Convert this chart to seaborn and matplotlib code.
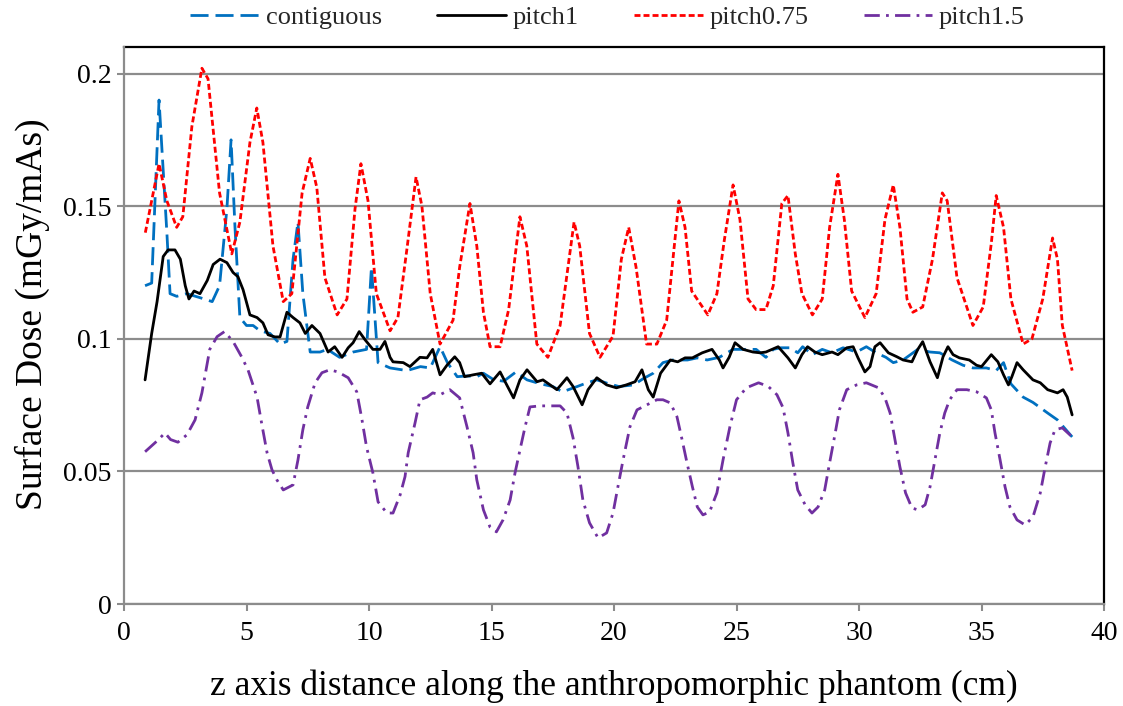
import numpy as np
import pandas as pd
import seaborn as sns
import matplotlib
matplotlib.use("Agg")
import matplotlib.pyplot as plt

# ---------------- data ----------------
contig_x = [0.86, 1.13, 1.43, 1.75, 1.88, 2.15, 2.56, 3.1, 3.6, 3.9,
            4.2, 4.37, 4.53, 4.73, 5.0, 5.27, 5.55, 5.96, 6.37, 6.65,
            6.9, 7.1, 7.3, 7.6, 8.0, 8.3, 8.8, 9.35, 9.9, 10.1,
            10.37, 10.86, 11.55, 12.1, 12.5, 12.9, 13.2, 13.6, 14.0, 14.4,
            14.67, 15.1, 15.5, 16.0, 16.45, 17.0, 17.5, 17.9, 18.5, 18.9,
            19.3, 19.8, 20.2, 20.8, 21.2, 21.6, 22.0, 22.4, 23.0, 23.4,
            23.8, 24.3, 24.86, 25.3, 25.8, 26.2, 26.5, 26.8, 27.2, 27.5,
            27.7, 28.1, 28.5, 28.9, 29.35, 29.9, 30.3, 30.7, 31.1, 31.4,
            31.8, 32.4, 32.9, 33.3, 33.8, 34.25, 34.65, 35.2, 35.6, 35.9,
            36.2, 36.7, 37.1, 37.7, 38.1, 38.7]
contig_y = [.120, .121, .190, .140, .117, .116, .117, .1155, .114, .120,
            .149, .175, .142, .108, .105, .105, .103, .102, .098, .099,
            .130, .144, .117, .095, .095, .096, .093, .095, .096, .127,
            .091, .089, .088, .0895, .089, .097, .091, .0857, .086, .0857,
            .087, .0845, .084, .0875, .0845, .083, .082, .080, .082, .0834,
            .0845, .083, .082, .0826, .085, .087, .091, .092, .092, .0928,
            .092, .093, .096, .096, .096, .093, .096, .0966, .0966, .0947,
            .097, .094, .096, .0947, .0966, .095, .097, .0947, .093, .091,
            .092, .096, .095, .0947, .092, .090, .089, .089, .088, .091,
            .083, .078, .076, .072, .0694, .063]

pitch1_x = [0.86, 1.13, 1.35, 1.6, 1.8, 2.08, 2.3, 2.5, 2.65, 2.86,
            3.1, 3.4, 3.64, 3.92, 4.2, 4.45, 4.65, 4.86, 5.14, 5.43,
            5.67, 5.88, 6.16, 6.37, 6.65, 6.9, 7.18, 7.4, 7.67, 8.0,
            8.33, 8.6, 8.9, 9.15, 9.35, 9.6, 9.84, 10.16, 10.45, 10.65,
            10.86, 10.98, 11.4, 11.67, 12.08, 12.37, 12.6, 12.9, 13.18, 13.5,
            13.7, 13.9, 14.25, 14.6, 14.94, 15.35, 15.6, 15.9, 16.16, 16.45,
            16.86, 17.1, 17.67, 18.08, 18.33, 18.7, 18.94, 19.3, 19.7, 20.1,
            20.5, 20.86, 21.14, 21.4, 21.6, 21.9, 22.3, 22.6, 22.9, 23.2,
            23.6, 24.0, 24.3, 24.45, 24.7, 24.94, 25.27, 25.67, 25.96, 26.2,
            26.7, 27.1, 27.4, 27.67, 27.9, 28.2, 28.5, 28.9, 29.14, 29.5,
            29.76, 29.96, 30.24, 30.45, 30.65, 30.86, 31.2, 31.55, 31.8, 32.16,
            32.4, 32.6, 32.9, 33.2, 33.43, 33.63, 33.84, 34.1, 34.5, 34.8,
            35.0, 35.4, 35.67, 35.9, 36.1, 36.24, 36.45, 36.7, 37.1, 37.4,
            37.7, 38.1, 38.33, 38.5, 38.7]
pitch1_y = [.0845, .102, .114, .131, .1335, .1335, .130, .120, .115, .118,
            .117, .122, .128, .130, .1287, .125, .1234, .1185, .109, .108,
            .106, .1015, .1007, .1007, .110, .108, .106, .102, .105, .102,
            .095, .097, .093, .0966, .0985, .1027, .0996, .096, .096, .099,
            .093, .0913, .091, .0895, .093, .0928, .096, .0864, .090, .0932,
            .091, .0857, .0864, .087, .083, .0875, .083, .0777, .0845, .0883,
            .0838, .0845, .0808, .0853, .082, .0751, .0808, .0853, .0826, .0815,
            .0826, .0838, .0883, .0808, .078, .087, .092, .0913, .0928, .0928,
            .0947, .096, .092, .089, .093, .0985, .096, .095, .0947, .095,
            .097, .0928, .089, .094, .097, .095, .094, .095, .094, .0966,
            .097, .0928, .0875, .0895, .097, .0985, .0947, .0932, .092, .0913,
            .096, .0989, .0913, .0853, .0932, .097, .094, .0928, .092, .090,
            .0895, .094, .0913, .0864, .0826, .0857, .091, .0883, .0845, .0834,
            .0808, .0796, .0808, .078, .0713]

p075_x = [0.87, 1.43, 1.75, 2.15, 2.4, 2.77, 3.18, 3.43, 3.9, 4.4,
          4.73, 5.14, 5.42, 5.67, 6.08, 6.5, 6.85, 7.27, 7.6, 7.87,
          8.2, 8.7, 9.1, 9.43, 9.67, 9.96, 10.3, 10.86, 11.18, 11.55,
          11.92, 12.16, 12.5, 12.9, 13.43, 13.7, 14.12, 14.4, 14.67, 14.94,
          15.35, 15.7, 16.16, 16.44, 16.85, 17.3, 17.8, 18.37, 18.6, 19.0,
          19.43, 19.96, 20.3, 20.6, 20.9, 21.33, 21.75, 22.15, 22.65, 22.9,
          23.17, 23.83, 24.2, 24.5, 24.86, 25.14, 25.47, 25.8, 26.2, 26.5,
          26.85, 27.1, 27.4, 27.67, 28.1, 28.5, 28.8, 29.14, 29.4, 29.7,
          30.24, 30.7, 31.06, 31.4, 31.67, 31.96, 32.2, 32.6, 33.0, 33.4,
          33.6, 34.0, 34.65, 35.07, 35.4, 35.6, 35.9, 36.2, 36.7, 37.06,
          37.5, 37.9, 38.1, 38.3, 38.7]
p075_y = [.140, .166, .152, .142, .146, .180, .202, .198, .155, .132,
          .144, .174, .187, .174, .135, .114, .117, .155, .168, .157,
          .123, .109, .115, .149, .166, .152, .117, .103, .108, .134,
          .161, .150, .117, .098, .107, .127, .151, .135, .110, .097,
          .097, .111, .146, .135, .098, .093, .105, .144, .135, .102,
          .093, .101, .130, .142, .127, .098, .098, .107, .152, .142,
          .118, .109, .117, .137, .158, .145, .115, .111, .111, .120,
          .151, .154, .132, .117, .109, .115, .142, .162, .145, .118,
          .108, .117, .145, .158, .142, .115, .110, .112, .130, .155,
          .152, .123, .105, .112, .136, .154, .142, .115, .098, .100,
          .115, .138, .130, .105, .088]

p15_x = [0.86, 1.4, 1.67, 1.9, 2.2, 2.57, 2.9, 3.18, 3.5, 3.8,
         4.1, 4.45, 4.8, 5.06, 5.43, 5.63, 5.84, 6.04, 6.24, 6.5,
         6.9, 7.1, 7.3, 7.5, 7.8, 8.08, 8.4, 8.73, 9.15, 9.5,
         9.7, 9.9, 10.16, 10.37, 10.73, 10.98, 11.27, 11.47, 11.6, 11.88,
         12.08, 12.37, 12.6, 12.9, 13.3, 13.7, 14.0, 14.25, 14.4, 14.67,
         14.94, 15.2, 15.47, 15.76, 15.96, 16.16, 16.37, 16.57, 16.98, 17.4,
         17.8, 18.08, 18.33, 18.53, 18.73, 19.0, 19.35, 19.7, 19.96, 20.16,
         20.37, 20.65, 20.94, 21.35, 21.75, 22.0, 22.3, 22.57, 22.78, 22.98,
         23.2, 23.4, 23.63, 23.9, 24.2, 24.45, 24.73, 25.0, 25.4, 25.9,
         26.3, 26.65, 26.9, 27.1, 27.3, 27.5, 27.8, 28.08, 28.33, 28.6,
         28.8, 29.0, 29.2, 29.5, 29.9, 30.3, 30.8, 31.06, 31.27, 31.47,
         31.67, 31.9, 32.16, 32.4, 32.7, 32.9, 33.1, 33.3, 33.5, 33.7,
         34.0, 34.4, 34.8, 35.2, 35.4, 35.55, 35.76, 35.96, 36.16, 36.45,
         36.78, 37.1, 37.4, 37.6, 37.8, 38.0, 38.3, 38.7]
p15_y = [.0574, .0619, .0645, .062, .061, .0638, .0694, .0796, .096, .1008,
         .1027, .099, .0932, .0883, .078, .0675, .057, .0506, .0468, .043,
         .0449, .0543, .0657, .0743, .0834, .0872, .0883, .0875, .0853, .080,
         .0702, .0592, .0494, .0385, .0343, .0343, .0411, .048, .057, .0683,
         .077, .078, .0796, .0789, .0808, .0777, .0668, .057, .0468, .0355,
         .029, .0272, .0317, .0392, .0494, .058, .0668, .0743, .0747, .0747,
         .0747, .072, .0626, .0517, .0392, .0306, .0249, .0268, .0343, .0442,
         .0543, .0668, .0732, .0751, .077, .077, .0758, .0706, .0619, .0532,
         .0442, .0366, .0336, .0347, .0419, .0543, .0668, .077, .0815, .0834,
         .082, .0789, .074, .0645, .0532, .043, .0374, .0343, .0366, .043,
         .0532, .063, .0732, .0808, .0826, .0834, .0815, .0777, .072, .0619,
         .0517, .0419, .0362, .0355, .0374, .0442, .0543, .0645, .072, .077,
         .0808, .0808, .080, .0777, .0732, .0645, .0543, .0442, .0366, .0317,
         .0298, .0328, .0419, .0517, .0607, .0657, .0664, .063]

series_names = ["contiguous", "pitch1", "pitch0.75", "pitch1.5"]
x_ticks = [0, 5, 10, 15, 20, 25, 30, 35, 40]
y_ticks = [0, 0.05, 0.1, 0.15, 0.2]
y_tick_labels = ["0", "0.05", "0.1", "0.15", "0.2"]
x_label = "z axis distance along the anthropomorphic phantom (cm)"
y_label = "Surface Dose (mGy/mAs)"

# ---------------- styling ----------------
sns.set_theme(style="white")
plt.rcParams["font.family"] = ["Liberation Serif", "DejaVu Serif"]
plt.rcParams["lines.scale_dashes"] = False

fig = plt.figure(figsize=(11.23, 7.06), dpi=100)
ax = fig.add_axes([124 / 1123, 1 - 604 / 706, 980 / 1123, 557 / 706])

styles = {
    "contiguous": dict(color="#0070C0", linestyle=(0, (13, 5))),
    "pitch1": dict(color="#000000", linestyle="-"),
    "pitch0.75": dict(color="#FF0000", linestyle=(0, (4.3, 2.2))),
    "pitch1.5": dict(color="#7030A0", linestyle=(0, (11, 4.5, 2, 4.5))),
}
data = {
    "contiguous": (contig_x, contig_y),
    "pitch1": (pitch1_x, pitch1_y),
    "pitch0.75": (p075_x, p075_y),
    "pitch1.5": (p15_x, p15_y),
}

for name in series_names:
    xs, ys = data[name]
    df = pd.DataFrame({"x": xs, "y": ys})
    sns.lineplot(data=df, x="x", y="y", ax=ax, sort=False, estimator=None,
                 linewidth=2.0, label=name, zorder=3, **styles[name])

ax.set_xlim(0, 40)
ax.set_ylim(0, 0.21)
ax.set_xticks(x_ticks)
ax.set_xticklabels([str(t) for t in x_ticks])
ax.set_yticks(y_ticks)
ax.set_yticklabels(y_tick_labels)

ax.yaxis.grid(True, color="#8C8C8C", linewidth=1.6, zorder=0)
ax.xaxis.grid(False)
ax.set_axisbelow(True)

for s in ["left", "bottom"]:
    ax.spines[s].set_color("#8C8C8C")
    ax.spines[s].set_linewidth(1.6)
for s in ["top", "right"]:
    ax.spines[s].set_color("#000000")
    ax.spines[s].set_linewidth(1.6)
    ax.spines[s].set_zorder(2)

ax.tick_params(axis="both", which="major", direction="out", length=5,
               width=1.5, color="#8C8C8C", labelsize=20, labelcolor="black",
               bottom=True, left=True)
ax.tick_params(axis="x", pad=7)
ax.tick_params(axis="y", pad=4)

ax.set_xlabel(x_label, fontsize=25.5, color="black", labelpad=17)
ax.set_ylabel(y_label, fontsize=27, color="black")
ax.yaxis.set_label_coords(-0.076, 0.52)

handles, labels = ax.get_legend_handles_labels()
ax.legend_.remove()
fig.legend(handles, labels, loc="center", bbox_to_anchor=(0.541, 0.975),
           ncol=4, frameon=False, fontsize=19, handlelength=2.6,
           handletextpad=0.25, columnspacing=2.1)

fig.savefig("out.png", dpi=100, facecolor="white")
